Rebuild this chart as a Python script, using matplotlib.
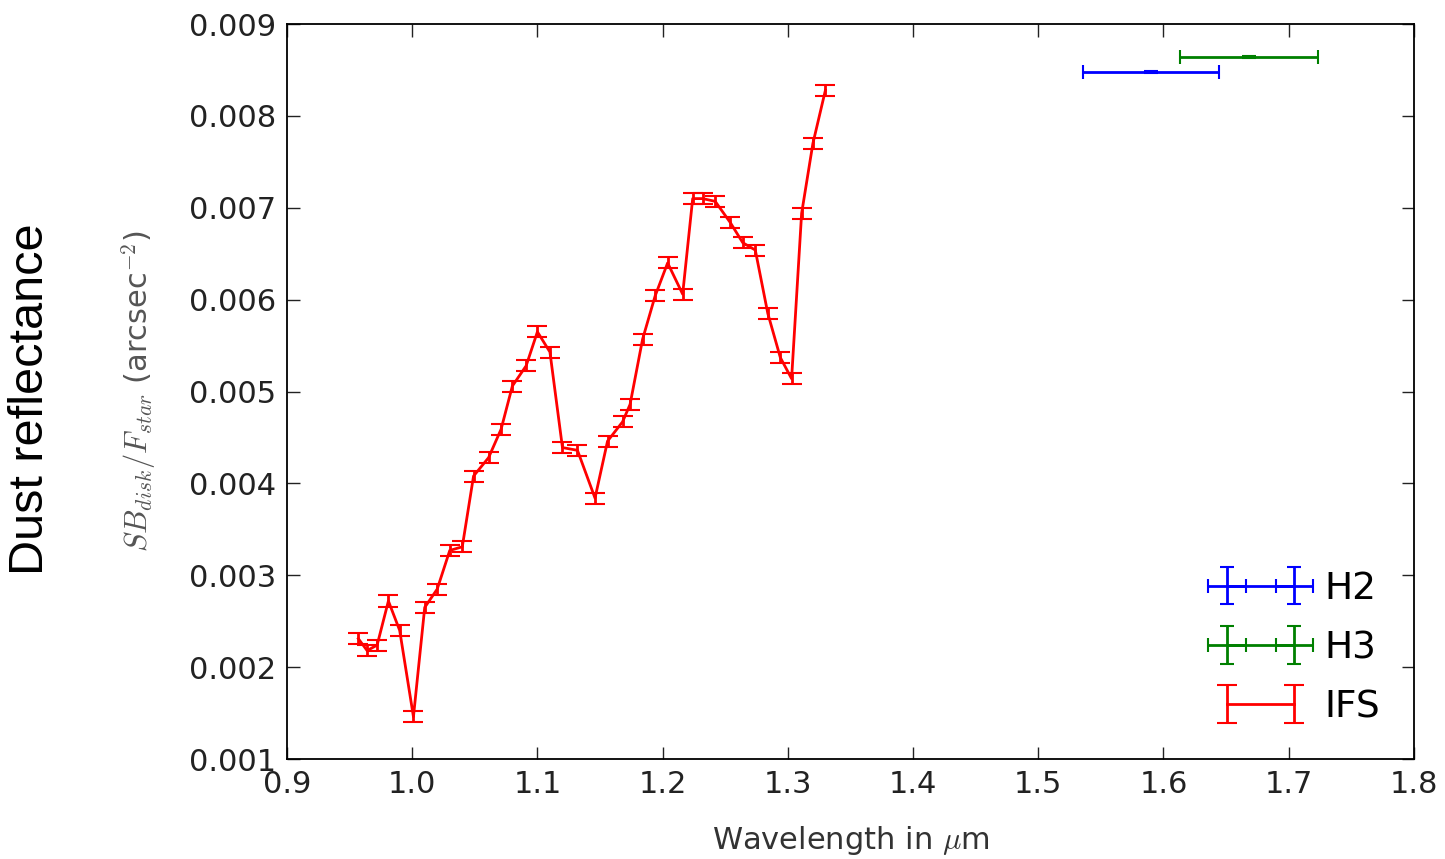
import matplotlib
matplotlib.use("Agg")
import matplotlib.pyplot as plt

plt.rcParams['mathtext.fontset'] = 'cm'

# IFS spectrum (wavelength in micron, SB_disk / F_star)
ifs_wave = [0.957, 0.964, 0.972, 0.981, 0.990, 1.001, 1.010, 1.020, 1.030, 1.040,
            1.049, 1.061, 1.071, 1.080, 1.091, 1.100, 1.110, 1.120, 1.132, 1.146,
            1.156, 1.168, 1.174, 1.184, 1.194, 1.204, 1.216, 1.224, 1.232, 1.242,
            1.254, 1.264, 1.274, 1.284, 1.294, 1.303, 1.311, 1.320, 1.330]
ifs_val = [0.00231, 0.00218, 0.00224, 0.00272, 0.00240, 0.00146, 0.00265, 0.00285, 0.00327, 0.00331,
           0.00408, 0.00428, 0.00459, 0.00506, 0.00528, 0.00565, 0.00543, 0.00439, 0.00436, 0.00384,
           0.00446, 0.00467, 0.00486, 0.00557, 0.00604, 0.00640, 0.00606, 0.00710, 0.00710, 0.00707,
           0.00684, 0.00662, 0.00654, 0.00585, 0.00537, 0.00514, 0.00694, 0.00770, 0.00828]
ifs_err = 0.00006

# IRDIS broad-band points
h2_wave, h2_val, h2_xerr, h2_yerr = 1.590, 0.00848, 0.054, 0.00001
h3_wave, h3_val, h3_xerr, h3_yerr = 1.668, 0.00864, 0.055, 0.00001

fig = plt.figure(figsize=(14.45, 8.59), dpi=100)
ax = fig.add_axes([0.1986, 0.1164, 0.7799, 0.8556])

ax.errorbar([h2_wave], [h2_val], xerr=[h2_xerr], yerr=[h2_yerr], color='b',
            lw=2, capsize=5, capthick=1.5, label='H2')
ax.errorbar([h3_wave], [h3_val], xerr=[h3_xerr], yerr=[h3_yerr], color='g',
            lw=2, capsize=5, capthick=1.5, label='H3')
ax.errorbar(ifs_wave, ifs_val, yerr=ifs_err, color='r', lw=2,
            capsize=7, capthick=1.5, label='IFS')

ax.set_xlim(0.9, 1.8)
ax.set_ylim(0.001, 0.009)
ax.set_xticks([0.9, 1.0, 1.1, 1.2, 1.3, 1.4, 1.5, 1.6, 1.7, 1.8])
ax.set_xticklabels(['0.9', '1.0', '1.1', '1.2', '1.3', '1.4', '1.5', '1.6', '1.7', '1.8'])
ax.set_yticks([0.001, 0.002, 0.003, 0.004, 0.005, 0.006, 0.007, 0.008, 0.009])
ax.set_yticklabels(['0.001', '0.002', '0.003', '0.004', '0.005', '0.006', '0.007', '0.008', '0.009'])
ax.tick_params(direction='in', top=True, right=True, length=9, width=1,
               labelsize=22, pad=8, colors='#222222')
for sp in ax.spines.values():
    sp.set_linewidth(1.3)

ax.set_xlabel(r'Wavelength in $\mu$m', fontsize=22, color='#333333', labelpad=18)
ax.set_ylabel(r'$SB_{disk}/F_{star}$ (arcsec$^{-2}$)', fontsize=22, color='#555555', labelpad=22)

fig.text(0.021, 0.535, 'Dust reflectance', rotation=90, ha='center', va='center',
         fontsize=35, family='Liberation Sans')

ax.legend(loc='lower right', numpoints=2, frameon=False, fontsize=27,
          handlelength=2.4, handletextpad=0.5, borderaxespad=0.5, labelspacing=0.62)

fig.savefig('out.png', dpi=100)
